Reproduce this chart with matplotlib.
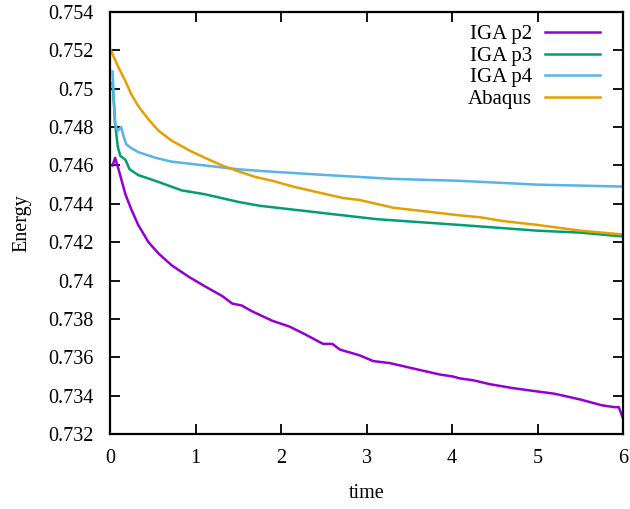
import numpy as np
import matplotlib.pyplot as plt

plt.rcParams['font.family'] = ['Liberation Serif', 'DejaVu Serif']
plt.rcParams['font.size'] = 14.5

# IGA p2
t_p2 = [0.03, 0.06, 0.1, 0.18, 0.25, 0.33, 0.45, 0.57, 0.72, 0.92, 1.11, 1.31, 1.43,
        1.54, 1.66, 1.9, 2.1, 2.28, 2.49, 2.6, 2.69, 2.92, 3.08, 3.27, 3.66, 3.86,
        4.01, 4.09, 4.25, 4.44, 4.7, 5.03, 5.2, 5.5, 5.75, 5.9, 5.95, 6.0]
e_p2 = [0.7460, 0.7464, 0.7458, 0.7445, 0.7437, 0.7429, 0.7420, 0.7414, 0.7408, 0.7402,
        0.7397, 0.7392, 0.7388, 0.7387, 0.7384, 0.7379, 0.7376, 0.7372, 0.7367, 0.7367,
        0.7364, 0.7361, 0.7358, 0.7357, 0.7353, 0.7351, 0.7350, 0.7349, 0.7348, 0.7346,
        0.7344, 0.7342, 0.7341, 0.7338, 0.7335, 0.7334, 0.7334, 0.7328]

# IGA p3
t_p3 = [0.03, 0.06, 0.09, 0.12, 0.18, 0.23, 0.33, 0.53, 0.84, 1.11, 1.5, 1.75, 2.53,
        3.12, 4.09, 5.0, 5.5, 6.0]
e_p3 = [0.7503, 0.7482, 0.7470, 0.7465, 0.7463, 0.7458, 0.7455, 0.7452, 0.7447, 0.7445,
        0.7441, 0.7439, 0.7435, 0.7432, 0.7429, 0.7426, 0.7425, 0.7423]

# IGA p4
t_p4 = [0.03, 0.04, 0.06, 0.09, 0.13, 0.16, 0.19, 0.25, 0.33, 0.53, 0.72, 1.11, 1.5,
        1.81, 2.53, 3.31, 4.09, 5.0, 6.0]
e_p4 = [0.7509, 0.7499, 0.7481, 0.7478, 0.7480, 0.7475, 0.7471, 0.7469, 0.7467, 0.7464,
        0.7462, 0.7460, 0.7458, 0.7457, 0.7455, 0.7453, 0.7452, 0.7450, 0.7449]

# Abaqus
t_ab = [0.0, 0.1, 0.18, 0.25, 0.33, 0.45, 0.57, 0.72, 0.92, 1.11, 1.31, 1.5, 1.7,
        1.9, 2.14, 2.53, 2.73, 2.92, 3.31, 3.7, 4.09, 4.33, 4.6, 5.0, 5.5, 6.0]
e_ab = [0.7521, 0.7511, 0.7504, 0.7497, 0.7491, 0.7484, 0.7478, 0.7473, 0.7468, 0.7464,
        0.7460, 0.7457, 0.7454, 0.7452, 0.7449, 0.7445, 0.7443, 0.7442, 0.7438, 0.7436,
        0.7434, 0.7433, 0.7431, 0.7429, 0.7426, 0.7424]

fig = plt.figure(figsize=(6.3, 5.09), dpi=100)
ax = fig.add_axes([0.1746, 0.1473, 0.8144, 0.8291])

ax.plot(t_p2, e_p2, color='#9400D3', lw=1.8, label='IGA p2')
ax.plot(t_p3, e_p3, color='#009E73', lw=1.8, label='IGA p3')
ax.plot(t_p4, e_p4, color='#56B4E9', lw=1.8, label='IGA p4')
ax.plot(t_ab, e_ab, color='#E69F00', lw=1.8, label='Abaqus')

ax.set_xlim(0, 6)
ax.set_ylim(0.732, 0.754)
ax.set_xticks(np.arange(0, 7, 1))
ax.set_yticks(np.arange(0.732, 0.7541, 0.002))
ax.set_yticklabels(['0.732', '0.734', '0.736', '0.738', '0.74', '0.742', '0.744',
                    '0.746', '0.748', '0.75', '0.752', '0.754'])
ax.tick_params(direction='in', length=7, width=1.3, top=True, right=True)
ax.tick_params(axis='x', pad=11)
ax.tick_params(axis='y', pad=12)
for s in ax.spines.values():
    s.set_linewidth(1.6)

ax.set_xlabel('time', labelpad=11)
ax.set_ylabel('Energy', labelpad=12)

ax.legend(loc='upper right', frameon=False, markerfirst=False, fontsize=15,
          handlelength=2.65, labelspacing=0.1, borderaxespad=0, handletextpad=0.6,
          bbox_to_anchor=(0.971, 0.99))

fig.savefig('out.png', dpi=100)
